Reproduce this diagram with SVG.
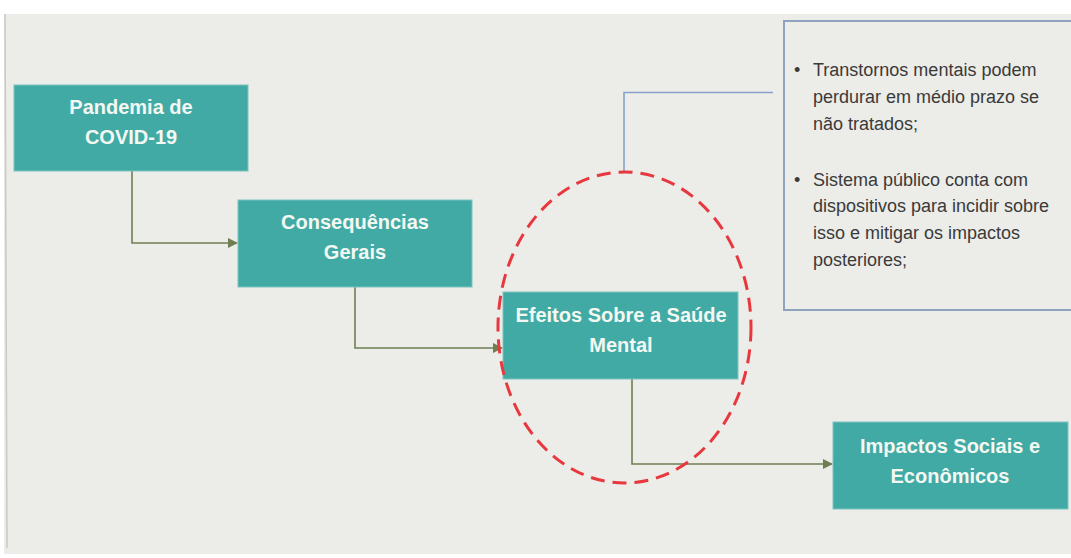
<svg xmlns="http://www.w3.org/2000/svg" width="1071" height="558" viewBox="0 0 1071 558">
<defs>
<style>
.box{fill:#42aaa5;stroke:#7cc4bf;stroke-width:1}
.bt{font-family:"Liberation Sans",Arial,sans-serif;font-size:20px;font-weight:bold;fill:#f4f8f2;text-anchor:middle}
.conn{fill:none;stroke:#6f7f52;stroke-width:1.6}
.ct{font-family:"Liberation Sans",Arial,sans-serif;font-size:18px;fill:#3a3a3a}
</style>
<marker id="arr" viewBox="0 0 10 10" refX="9" refY="5" markerWidth="6.5" markerHeight="6.5" orient="auto" markerUnits="strokeWidth">
<path d="M0,0 L10,5 L0,10 z" fill="#6f7f52"/>
</marker>
</defs>
<rect x="0" y="0" width="1071" height="558" fill="#ffffff"/>
<rect x="4" y="14" width="1067" height="540" fill="#ecece8"/>
<line x1="5" y1="14" x2="7" y2="548" stroke="#c8c8c4" stroke-width="1.5"/>

<g id="connectors">
<polyline class="conn" points="132,171 132,243 237,243" marker-end="url(#arr)"/>
<polyline class="conn" points="355,287 355,348 502,348" marker-end="url(#arr)"/>
<polyline class="conn" points="632,379 632,464 832,464" marker-end="url(#arr)"/>
<polyline points="624,172 624,92.5 773,92.5" fill="none" stroke="#86a2cb" stroke-width="1.6"/>
</g>

<g id="node-pandemia">
<rect class="box" x="14" y="85" width="234" height="86"/>
<text class="bt" x="131" y="114">Pandemia de</text>
<text class="bt" x="131" y="144">COVID-19</text>
</g>

<g id="node-consequencias">
<rect class="box" x="238" y="200" width="234" height="87"/>
<text class="bt" x="355" y="229">Consequências</text>
<text class="bt" x="355" y="259">Gerais</text>
</g>

<g id="node-efeitos">
<rect class="box" x="503" y="292" width="235" height="87"/>
<text class="bt" x="621" y="322">Efeitos Sobre a Saúde</text>
<text class="bt" x="621" y="352">Mental</text>
</g>

<g id="node-impactos">
<rect class="box" x="833" y="422" width="235" height="87"/>
<text class="bt" x="950" y="453">Impactos Sociais e</text>
<text class="bt" x="950" y="483">Econômicos</text>
</g>

<g id="highlight">
<ellipse cx="624.5" cy="327.5" rx="126.5" ry="155.5" fill="none" stroke="#e8383f" stroke-width="3" stroke-dasharray="14 8"/>
</g>

<g id="callout">
<rect x="784" y="21" width="295" height="289" fill="#ecece8" stroke="#8fa3bf" stroke-width="2"/>
<text class="ct" x="794" y="76">•</text>
<text class="ct" x="813" y="76">Transtornos mentais podem</text>
<text class="ct" x="813" y="103">perdurar em médio prazo se</text>
<text class="ct" x="813" y="130">não tratados;</text>
<text class="ct" x="794" y="186">•</text>
<text class="ct" x="813" y="186">Sistema público conta com</text>
<text class="ct" x="813" y="212">dispositivos para incidir sobre</text>
<text class="ct" x="813" y="239">isso e mitigar os impactos</text>
<text class="ct" x="813" y="266">posteriores;</text>
</g>
</svg>
